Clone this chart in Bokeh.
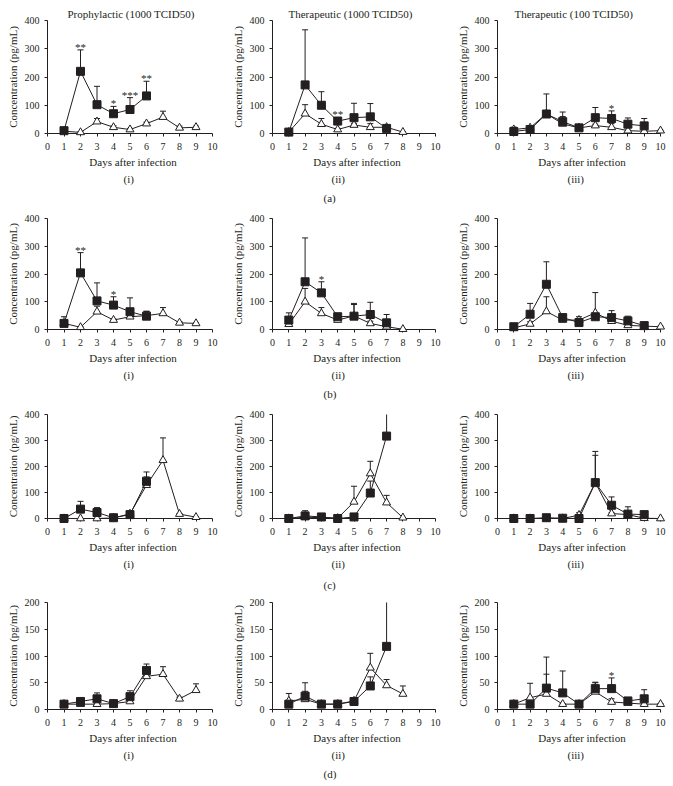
from bokeh.plotting import figure
from bokeh.layouts import row, column
from bokeh.models import Range1d, FixedTicker, Title
from bokeh.core.properties import value
from bokeh.embed import file_html
from bokeh.resources import INLINE

FONT = "Liberation Serif"
INK = "#231f20"
N = None

# ---------------- data ----------------
days = [1, 2, 3, 4, 5, 6, 7, 8, 9, 10]
x_ticks = [0, 1, 2, 3, 4, 5, 6, 7, 8, 9, 10]
y_ticks_400 = [0, 100, 200, 300, 400]
y_ticks_200 = [0, 50, 100, 150, 200]
col_titles = ["Prophylactic (1000 TCID50)", "Therapeutic (1000 TCID50)", "Therapeutic (100 TCID50)"]
sub_labels = ["(i)", "(ii)", "(iii)"]
row_labels = ["(a)", "(b)", "(c)", "(d)"]
x_label = "Days after infection"
y_label = "Concentration (pg/mL)"

# row (a)
a1_sq = [10, 220, 102, 70, 85, 133, N, N, N, N]
a1_sq_hi = [14, 296, 167, 96, 127, 185, N, N, N, N]
a1_tri = [8, 4, 42, 22, 14, 35, 58, 20, 22, N]
a1_tri_hi = [10, 6, 53, 27, 18, 40, 79, 26, 26, N]
a1_star_days = [2, 4, 5, 6]
a1_stars = ["**", "*", "***", "**"]

a2_sq = [5, 172, 100, 44, 56, 59, 18, N, N, N]
a2_sq_hi = [8, 367, 148, 57, 107, 106, 28, N, N, N]
a2_tri = [5, 70, 33, 14, 30, 22, 22, 5, N, N]
a2_tri_hi = [7, 102, 53, 18, 36, 35, 27, 7, N, N]
a2_star_days = [4]
a2_stars = ["**"]

a3_sq = [7, 14, 69, 42, 20, 56, 53, 33, 27, N]
a3_sq_hi = [22, 20, 140, 76, 24, 92, 80, 55, 53, N]
a3_tri = [14, 20, 70, 34, 20, 28, 22, 10, 8, 10]
a3_tri_hi = [22, 24, 72, 60, 22, 33, 35, 12, 10, 12]
a3_star_days = [7]
a3_stars = ["*"]

# row (b)
b1_sq = [22, 204, 103, 88, 64, 48, N, N, N, N]
b1_sq_hi = [46, 277, 168, 118, 114, 66, N, N, N, N]
b1_tri = [22, 8, 64, 34, 46, 50, 58, 24, 22, N]
b1_tri_hi = [26, 10, 84, 38, 55, 65, 79, 28, 24, N]
b1_star_days = [2, 4]
b1_stars = ["**", "*"]

b2_sq = [34, 172, 132, 46, 48, 54, 24, N, N, N]
b2_sq_hi = [60, 330, 172, 58, 94, 98, 54, N, N, N]
b2_tri = [19, 100, 58, 34, 49, 22, 10, 1, N, N]
b2_tri_hi = [25, 148, 79, 38, 90, 30, 14, 2, N, N]
b2_star_days = [3]
b2_stars = ["*"]

b3_sq = [10, 55, 163, 43, 25, 46, 43, 31, 14, N]
b3_sq_hi = [12, 94, 244, 52, 46, 50, 68, 48, 18, N]
b3_tri = [6, 20, 65, 34, 34, 60, 30, 15, 12, 10]
b3_tri_hi = [8, 28, 118, 38, 40, 133, 45, 35, 14, 12]
b3_star_days = []
b3_stars = []

# row (c)
c1_sq = [0, 36, 23, 3, 15, 143, N, N, N, N]
c1_sq_hi = [0, 66, 42, 3, 25, 179, N, N, N, N]
c1_tri = [0, 0, 0, 2, 18, 128, 224, 17, 5, N]
c1_tri_hi = [0, 0, 0, 2, 22, 160, 310, 19, 6, N]
c1_star_days = []
c1_stars = []

c2_sq = [0, 10, 6, 0, 6, 98, 317, N, N, N]
c2_sq_hi = [0, 30, 8, 0, 8, 144, 520, N, N, N]
c2_tri = [0, 5, 3, 1, 64, 173, 61, 3, N, N]
c2_tri_hi = [0, 6, 4, 1, 124, 220, 89, 4, N, N]
c2_star_days = []
c2_stars = []

c3_sq = [0, 0, 3, 1, 0, 138, 51, 17, 15, N]
c3_sq_hi = [0, 0, 5, 1, 0, 243, 83, 45, 26, N]
c3_tri = [0, 0, 0, 0, 13, 138, 19, 15, 1, 0]
c3_tri_hi = [0, 0, 0, 0, 22, 258, 22, 18, 1, 0]
c3_star_days = []
c3_stars = []

# row (d)
d1_sq = [10, 15, 20, 11, 24, 73, N, N, N, N]
d1_sq_hi = [11, 18, 31, 13, 35, 85, N, N, N, N]
d1_tri = [10, 10, 10, 11, 15, 62, 66, 20, 36, N]
d1_tri_hi = [11, 11, 11, 12, 17, 65, 80, 23, 48, N]
d1_star_days = []
d1_stars = []

d2_sq = [10, 25, 10, 10, 15, 44, 118, N, N, N]
d2_sq_hi = [12, 50, 11, 11, 22, 61, 250, N, N, N]
d2_tri = [16, 19, 10, 10, 16, 78, 45, 29, N, N]
d2_tri_hi = [30, 34, 11, 11, 20, 105, 56, 44, N, N]
d2_star_days = []
d2_stars = []

d3_sq = [10, 10, 40, 31, 10, 39, 39, 16, 20, N]
d3_sq_hi = [11, 11, 98, 72, 11, 51, 59, 21, 37, N]
d3_tri = [10, 22, 29, 10, 10, 33, 14, 12, 10, 10]
d3_tri_hi = [11, 49, 66, 11, 11, 50, 20, 14, 11, 11]
d3_star_days = [7]
d3_stars = ["*"]

# ---------------- geometry (pixels) ----------------
AXIS_X = [47, 44, 44]        # left border up to y axis
AXIS_W = [165, 163, 163]     # width of 0..10
COL_W = [228, 225, 217]
ROW_H = [208, 196, 192, 188]
AXIS_TOP = [20, 10, 10, 6]
AXIS_H = [113, 111, 104, 107]
XPAD = 6
TITLE_OFF = [20, 16, 17]      # left offset of column titles
SUB_OFF = [76, 59, 70]        # left offset of (i), (ii), (iii)
ROW_OFF = 51                  # left offset of (a)..(d)
SUB_STANDOFF = [0, 0, 1, 0]
ROW_STANDOFF = [10, 10, 12, 10]


def style_text(t, size="11px"):
    t.text_font = FONT
    t.text_font_size = size
    t.text_font_style = "normal"
    t.text_color = INK


def valid(vals, his):
    xs, ys, hs = [], [], []
    for d, v, h in zip(days, vals, his):
        if v is not None:
            xs.append(d)
            ys.append(v)
            hs.append(h if h is not None else v)
    return xs, ys, hs


def panel(c, r, sq, sq_hi, tri, tri_hi, ymax, yticks, star_days, stars):
    fw = AXIS_W[c] + XPAD
    fh = AXIS_H[r]
    lb = AXIS_X[c]
    rb = COL_W[c] - lb - fw
    tb = AXIS_TOP[r]
    bb = ROW_H[r] - tb - fh
    p = figure(frame_width=fw, frame_height=fh,
               min_border_left=lb, min_border_right=rb,
               min_border_top=tb, min_border_bottom=bb,
               x_range=Range1d(0, 10 + XPAD * 10 / AXIS_W[c]),
               y_range=Range1d(0, ymax),
               output_backend="svg", toolbar_location=None,
               title=(col_titles[c] if r == 0 else None))
    p.outline_line_color = None
    p.grid.visible = False
    if r == 0:
        p.title.align = "left"
        p.title.offset = TITLE_OFF[c]
        p.title.standoff = 1
        style_text(p.title)

    for ax in (p.xaxis[0], p.yaxis[0]):
        ax.axis_line_color = INK
        ax.major_tick_line_color = INK
        ax.minor_tick_line_color = None
        ax.major_tick_out = 3
        ax.major_tick_in = 0
        ax.major_label_text_font = FONT
        ax.major_label_text_font_size = "10px"
        ax.major_label_text_color = INK
        ax.axis_label_text_font = FONT
        ax.axis_label_text_font_size = "11px"
        ax.axis_label_text_font_style = "normal"
        ax.axis_label_text_color = INK
        ax.axis_label_standoff = 3
    p.xaxis.major_label_standoff = 6
    p.yaxis.major_label_standoff = 5
    p.xaxis.ticker = FixedTicker(ticks=x_ticks)
    p.xaxis.bounds = (0, 10)
    p.xaxis.axis_label = x_label
    p.yaxis.ticker = FixedTicker(ticks=yticks)
    p.yaxis.bounds = (0, ymax)
    p.yaxis.axis_label = y_label

    for vals, his, marker, fill in ((tri, tri_hi, "triangle", "white"), (sq, sq_hi, "square", INK)):
        xs, ys, hs = valid(vals, his)
        p.segment(x0=xs, y0=ys, x1=xs, y1=hs, line_color=INK, line_width=1)
        p.scatter(xs, hs, marker="dash", size=6, line_color=INK, line_width=1)
        p.line(xs, ys, line_color=INK, line_width=1, level="overlay")
        p.scatter(xs, ys, marker=marker, size=8,
                  fill_color=fill, line_color=INK, line_width=1, level="overlay")

    if star_days:
        sy = [sq_hi[d - 1] for d in star_days]
        p.text(x=star_days, y=sy, text=stars, text_font=value(FONT),
               text_font_size="11px", text_align="center",
               text_baseline="alphabetic", text_color=INK, y_offset=-3)

    t = Title(text=sub_labels[c], align="left", standoff=SUB_STANDOFF[r], offset=SUB_OFF[c])
    style_text(t)
    p.add_layout(t, "below")
    if c == 1:
        t2 = Title(text=row_labels[r], align="left", standoff=ROW_STANDOFF[r], offset=ROW_OFF)
        style_text(t2)
        p.add_layout(t2, "below")
    return p


panels = [
    [(a1_sq, a1_sq_hi, a1_tri, a1_tri_hi, a1_star_days, a1_stars),
     (a2_sq, a2_sq_hi, a2_tri, a2_tri_hi, a2_star_days, a2_stars),
     (a3_sq, a3_sq_hi, a3_tri, a3_tri_hi, a3_star_days, a3_stars)],
    [(b1_sq, b1_sq_hi, b1_tri, b1_tri_hi, b1_star_days, b1_stars),
     (b2_sq, b2_sq_hi, b2_tri, b2_tri_hi, b2_star_days, b2_stars),
     (b3_sq, b3_sq_hi, b3_tri, b3_tri_hi, b3_star_days, b3_stars)],
    [(c1_sq, c1_sq_hi, c1_tri, c1_tri_hi, c1_star_days, c1_stars),
     (c2_sq, c2_sq_hi, c2_tri, c2_tri_hi, c2_star_days, c2_stars),
     (c3_sq, c3_sq_hi, c3_tri, c3_tri_hi, c3_star_days, c3_stars)],
    [(d1_sq, d1_sq_hi, d1_tri, d1_tri_hi, d1_star_days, d1_stars),
     (d2_sq, d2_sq_hi, d2_tri, d2_tri_hi, d2_star_days, d2_stars),
     (d3_sq, d3_sq_hi, d3_tri, d3_tri_hi, d3_star_days, d3_stars)],
]

rows = []
for r, prow in enumerate(panels):
    ymax = 200 if r == 3 else 400
    yticks = y_ticks_200 if r == 3 else y_ticks_400
    figs = []
    for c, (sq, sqh, tri, trih, sd, st) in enumerate(prow):
        figs.append(panel(c, r, sq, sqh, tri, trih, ymax, yticks, sd, st))
    rows.append(row(*figs))

layout = column(*rows)
open("out.html", "w").write(file_html(layout, INLINE))
